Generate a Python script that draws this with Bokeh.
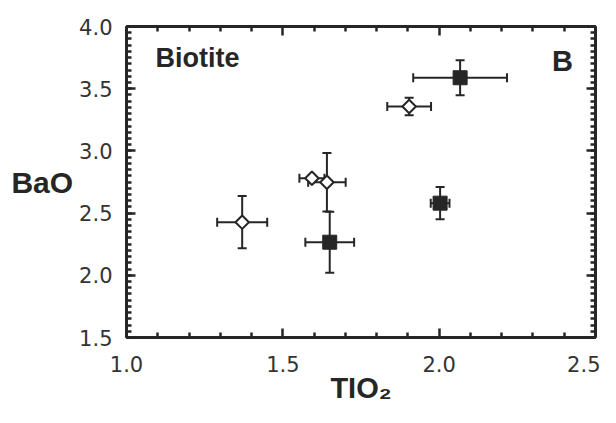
import numpy as np
from bokeh.plotting import figure
from bokeh.models import (ColumnDataSource, Whisker, TeeHead, Label, LinearAxis,
                          FixedTicker, Range1d, PrintfTickFormatter,
                          CustomJSTickFormatter)
from bokeh.embed import file_html
from bokeh.resources import INLINE

# ---- data ----
open_tio2 = [1.37, 1.593, 1.641, 1.904]
open_bao = [2.427, 2.78, 2.748, 3.357]
open_tio2_err = [0.08, 0.04, 0.06, 0.07]
open_bao_err = [0.21, 0.02, 0.235, 0.07]

fill_tio2 = [1.65, 2.003, 2.067]
fill_bao = [2.266, 2.58, 3.588]
fill_tio2_err = [0.078, 0.03, 0.15]
fill_bao_err = [0.245, 0.13, 0.14]

x_major = [1.0, 1.5, 2.0, 2.5]
x_minor = [1.1, 1.2, 1.3, 1.4, 1.6, 1.7, 1.8, 1.9, 2.1, 2.2, 2.3, 2.4]
y_major = [1.5, 2.0, 2.5, 3.0, 3.5, 4.0]
y_minor = [round(1.5 + 0.05 * i, 2) for i in range(51)]

x_title = "TIO\u2082"
y_title = "BaO"

INK = "#262626"
W, H = 600, 407


def make_source(xs, ys, xe, ye):
    xs, ys, xe, ye = map(np.asarray, (xs, ys, xe, ye))
    return ColumnDataSource(dict(x=xs, y=ys, xlo=xs - xe, xhi=xs + xe,
                                 ylo=ys - ye, yhi=ys + ye))


src_open = make_source(open_tio2, open_bao, open_tio2_err, open_bao_err)
src_fill = make_source(fill_tio2, fill_bao, fill_tio2_err, fill_bao_err)

p = figure(width=W, height=H, output_backend="svg", toolbar_location=None,
           x_range=Range1d(1.0, 2.5), y_range=Range1d(1.5, 4.0),
           min_border_left=126, min_border_right=5, min_border_top=26,
           min_border_bottom=70)
p.background_fill_color = "white"
p.border_fill_color = "white"
p.xgrid.visible = False
p.ygrid.visible = False
p.outline_line_color = INK
p.outline_line_width = 2


def style_axis(ax, ticks, minor, show_labels, standoff=12):
    ax.ticker = FixedTicker(ticks=ticks, minor_ticks=minor)
    ax.axis_line_width = 3
    ax.axis_line_color = INK
    ax.major_tick_in = 9
    ax.major_tick_out = 0
    ax.minor_tick_in = 5
    ax.minor_tick_out = 0
    ax.major_tick_line_width = 2.5
    ax.minor_tick_line_width = 2.5
    ax.major_tick_line_color = INK
    ax.minor_tick_line_color = INK
    if show_labels:
        ax.formatter = PrintfTickFormatter(format="%.1f")
        ax.major_label_text_font = "DejaVu Sans"
        ax.major_label_text_font_size = "21px"
        ax.major_label_text_color = "#333333"
        ax.major_label_standoff = standoff
        ax.axis_label_text_font = "Liberation Sans"
        ax.axis_label_text_font_style = "bold"
        ax.axis_label_text_color = INK
    else:
        ax.formatter = CustomJSTickFormatter(code="return ''")
        ax.major_label_standoff = 0


xa = p.xaxis[0]
ya = p.yaxis[0]
style_axis(xa, x_major, x_minor, True, standoff=18)
style_axis(ya, y_major, y_minor, True, standoff=14)

xa.axis_label = x_title
xa.axis_label_text_font_size = "29px"
xa.axis_label_standoff = -3

ya.axis_label = y_title
ya.axis_label_text_font_size = "30px"
ya.axis_label_orientation = "horizontal"
ya.axis_label_standoff = 3

top = LinearAxis()
style_axis(top, x_major, x_minor, False)
p.add_layout(top, "above")
right = LinearAxis()
style_axis(right, y_major, y_minor, False)
p.add_layout(right, "right")

# ---- error bars ----
for src in (src_open, src_fill):
    for dim, lo, hi, base in (("height", "ylo", "yhi", "x"), ("width", "xlo", "xhi", "y")):
        w = Whisker(source=src, base=base, lower=lo, upper=hi, dimension=dim,
                    line_color=INK, line_width=2,
                    lower_head=TeeHead(size=9, line_color=INK, line_width=2),
                    upper_head=TeeHead(size=9, line_color=INK, line_width=2))
        p.add_layout(w)

# ---- markers ----
p.scatter("x", "y", source=src_fill, marker="square", size=14,
          fill_color=INK, line_color=INK, line_width=1)
p.scatter("x", "y", source=src_open, marker="square", size=9.5, angle=np.pi / 4,
          fill_color="white", line_color=INK, line_width=2)


# ---- in-panel texts ----
def bold_label(text, size, **kw):
    return Label(text=text, text_font="Liberation Sans", text_font_style="bold",
                 text_font_size=size, text_color=INK, text_baseline="middle",
                 text_align="left", **kw)


p.add_layout(bold_label("Biotite", "27px", x=1.093, y=3.743))
p.add_layout(bold_label("B", "29px", x=2.361, y=3.719))

open("out.html", "w").write(file_html(p, INLINE))
